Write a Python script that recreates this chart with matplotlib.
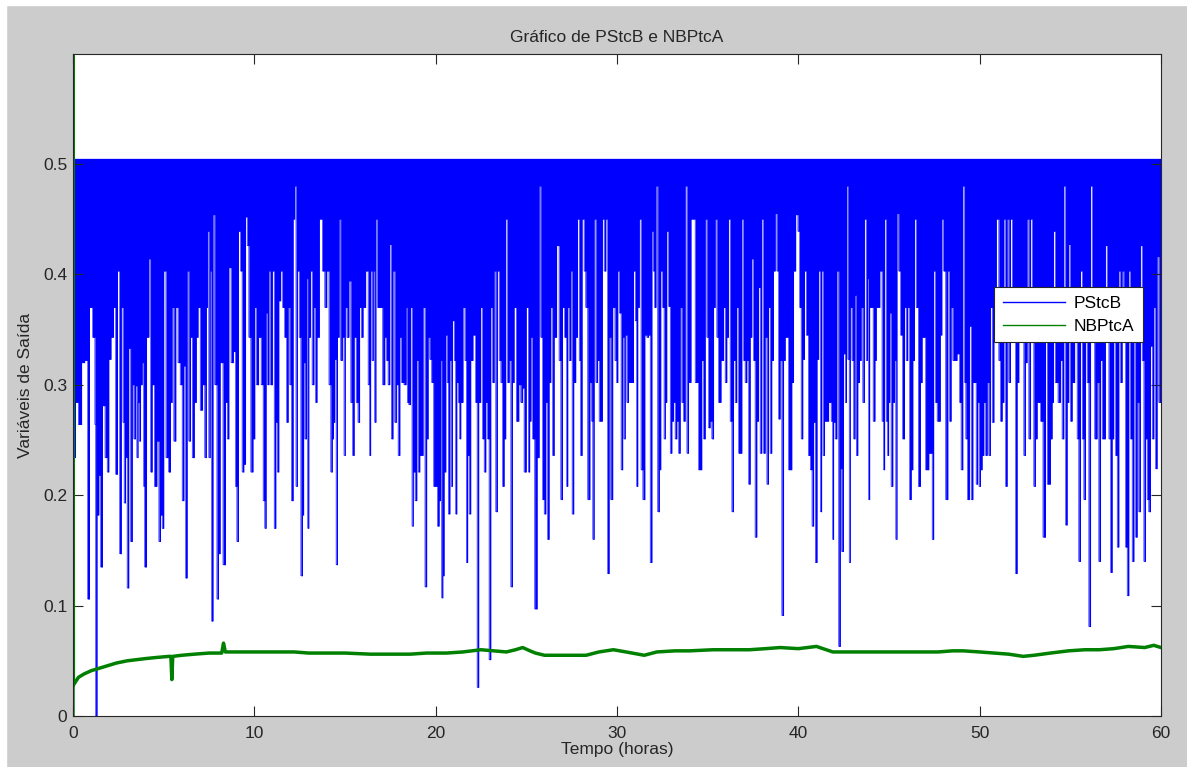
import matplotlib
matplotlib.use("Agg")
import matplotlib.pyplot as plt
import numpy as np
from matplotlib.patches import Rectangle

plt.rcParams['font.family'] = ['Liberation Sans', 'DejaVu Sans']
plt.rcParams['font.size'] = 12.5

# PStcB: ceiling level and the dips below it, (hours, value)
pstcb_top = 0.505
pstcb_dips = [
    (0.00, .233), (0.09, .234), (0.18, .284), (0.40, .264), (0.55, .320), (0.74, .322), (0.86, .106), (0.96, .370),
    (1.19, .343), (1.22, .264), (1.27, .000), (1.38, .182), (1.47, .218), (1.56, .135), (1.69, .281), (1.84, .234),
    (1.93, .221), (2.02, .323), (2.17, .343), (2.30, .370), (2.39, .219), (2.52, .403), (2.61, .147), (2.72, .370),
    (2.79, .266), (2.85, .193), (2.94, .234), (3.03, .116), (3.12, .333), (3.23, .158), (3.31, .300), (3.40, .251),
    (3.49, .299), (3.55, .234), (3.62, .284), (3.68, .249), (3.77, .300), (3.86, .320), (3.92, .208), (3.97, .135),
    (4.14, .343), (4.23, .414), (4.32, .221), (4.41, .300), (4.56, .208), (4.69, .249), (4.78, .158), (4.87, .182),
    (4.96, .170), (5.05, .403), (5.20, .234), (5.33, .221), (5.42, .284), (5.51, .370), (5.61, .249), (5.73, .370),
    (5.85, .320), (5.97, .300), (6.07, .195), (6.16, .317), (6.25, .125), (6.34, .403), (6.43, .249), (6.53, .343),
    (6.62, .234), (6.76, .284), (6.84, .343), (6.95, .370), (7.08, .277), (7.21, .300), (7.32, .234), (7.39, .370),
    (7.44, .439), (7.54, .234), (7.59, .403), (7.68, .086), (7.76, .454), (7.87, .300), (8.00, .106), (8.05, .147),
    (8.18, .320), (8.36, .137), (8.46, .284), (8.55, .251), (8.64, .406), (8.79, .320), (8.90, .330), (9.01, .208),
    (9.06, .158), (9.19, .439), (9.28, .403), (9.37, .221), (9.47, .228), (9.56, .452), (9.65, .426), (9.74, .343),
    (9.87, .221), (9.98, .251),
    (10.07, .370), (10.16, .300), (10.31, .343), (10.44, .300), (10.53, .195), (10.62, .170), (10.68, .365), (10.77, .300),
    (10.84, .403), (10.94, .300), (11.05, .403), (11.14, .170), (11.23, .266), (11.30, .221), (11.40, .376), (11.51, .403),
    (11.60, .370), (11.73, .343), (11.82, .266), (11.91, .370), (12.00, .300), (12.09, .195), (12.19, .450), (12.26, .480),
    (12.33, .208), (12.42, .403), (12.52, .343), (12.61, .127), (12.70, .182), (12.74, .320), (12.83, .251), (12.92, .396),
    (12.96, .170), (13.05, .343), (13.14, .403), (13.23, .300), (13.34, .370), (13.40, .284), (13.51, .343), (13.66, .450),
    (13.84, .403), (13.93, .370), (14.06, .403), (14.17, .300), (14.26, .221), (14.34, .251), (14.39, .266), (14.48, .323),
    (14.54, .137), (14.63, .343), (14.72, .450), (14.80, .322), (14.91, .343), (14.98, .236), (15.05, .370), (15.16, .343),
    (15.27, .394), (15.37, .284), (15.46, .236), (15.55, .343), (15.68, .284), (15.75, .266), (15.86, .370), (15.94, .343),
    (16.05, .370), (16.23, .403), (16.32, .300), (16.38, .236), (16.45, .403), (16.52, .322), (16.60, .403), (16.67, .266),
    (16.74, .450), (16.84, .370), (17.00, .370), (17.15, .300), (17.24, .343), (17.33, .322), (17.42, .300), (17.52, .427),
    (17.59, .251), (17.70, .403), (17.79, .266), (17.88, .300), (17.98, .236), (18.07, .343), (18.16, .302), (18.34, .300),
    (18.40, .370), (18.47, .284), (18.56, .282), (18.66, .370), (18.73, .172), (18.80, .221), (18.93, .195), (18.99, .322),
    (19.08, .221), (19.17, .236), (19.26, .236), (19.35, .370), (19.47, .117), (19.54, .251), (19.63, .343), (19.72, .323),
    (19.83, .302), (19.94, .208),
    (20.05, .208), (20.14, .172), (20.24, .195), (20.29, .322), (20.37, .107), (20.42, .127), (20.51, .221), (20.61, .345),
    (20.66, .302), (20.73, .183), (20.84, .322), (20.88, .208), (20.97, .358), (21.07, .322), (21.12, .183), (21.21, .302),
    (21.29, .284), (21.34, .251), (21.43, .284), (21.58, .370), (21.65, .322), (21.73, .139), (21.80, .236), (21.89, .183),
    (21.98, .322), (22.13, .345), (22.26, .284), (22.31, .026), (22.44, .284), (22.53, .370), (22.63, .251), (22.72, .221),
    (22.81, .284), (22.90, .251), (22.99, .051), (23.09, .370), (23.18, .302), (23.27, .403), (23.36, .185), (23.45, .403),
    (23.55, .322), (23.64, .302), (23.73, .208), (23.82, .251), (23.91, .450), (24.01, .302), (24.10, .322), (24.19, .117),
    (24.28, .302), (24.37, .370), (24.52, .267), (24.65, .300), (24.74, .284), (24.83, .297), (24.92, .221), (25.07, .370),
    (25.15, .221), (25.22, .267), (25.29, .343), (25.39, .251), (25.53, .097), (25.66, .234), (25.75, .480), (25.84, .343),
    (25.94, .196), (26.03, .183), (26.12, .284), (26.21, .160), (26.30, .302), (26.40, .370), (26.49, .236), (26.58, .343),
    (26.76, .426), (26.85, .322), (26.95, .196), (27.04, .370), (27.17, .343), (27.26, .208), (27.31, .370), (27.41, .322),
    (27.50, .403), (27.55, .183), (27.68, .302), (27.77, .343), (27.87, .450), (27.96, .322), (28.01, .236), (28.14, .450),
    (28.23, .403), (28.32, .370), (28.45, .196), (28.56, .302), (28.64, .267), (28.69, .160), (28.79, .450), (28.88, .302),
    (28.97, .322), (29.06, .267), (29.15, .267), (29.24, .450), (29.34, .403), (29.43, .450), (29.52, .129), (29.61, .343),
    (29.70, .196), (29.83, .370), (29.94, .322),
    (30.00, .302), (30.09, .403), (30.17, .365), (30.28, .223), (30.35, .343), (30.41, .251), (30.50, .345), (30.59, .284),
    (30.68, .302), (30.86, .302), (30.96, .403), (31.05, .358), (31.10, .208), (31.19, .370), (31.27, .450), (31.38, .223),
    (31.47, .196), (31.60, .345), (31.69, .343), (31.78, .345), (31.88, .139), (31.97, .439), (32.02, .403), (32.11, .370),
    (32.19, .480), (32.30, .185), (32.37, .223), (32.46, .403), (32.56, .370), (32.63, .251), (32.70, .284), (32.79, .439),
    (32.89, .371), (32.98, .238), (33.07, .267), (33.16, .284), (33.25, .251), (33.35, .267), (33.44, .238), (33.53, .370),
    (33.62, .284), (33.71, .267), (33.81, .480), (33.90, .238), (33.99, .302), (34.17, .450), (34.45, .302), (34.54, .223),
    (34.63, .223), (34.72, .322), (34.82, .251), (34.91, .450), (35.00, .343), (35.09, .261), (35.18, .267), (35.28, .251),
    (35.37, .370), (35.46, .450), (35.55, .343), (35.64, .284), (35.83, .322), (35.92, .370), (36.01, .302), (36.10, .343),
    (36.19, .450), (36.29, .267), (36.38, .185), (36.47, .322), (36.56, .284), (36.65, .370), (36.75, .238), (36.84, .238),
    (36.93, .450), (37.02, .322), (37.11, .302), (37.21, .322), (37.30, .210), (37.39, .343), (37.48, .414), (37.57, .322),
    (37.66, .162), (37.76, .267), (37.85, .388), (37.94, .238), (38.03, .450), (38.12, .238), (38.22, .343), (38.31, .210),
    (38.40, .370), (38.49, .238), (38.58, .322), (38.68, .403), (38.77, .455), (38.86, .403), (38.95, .269), (39.04, .322),
    (39.14, .091), (39.23, .322), (39.32, .343), (39.59, .223), (39.69, .302), (39.78, .403), (39.93, .454),
    (40.02, .439), (40.11, .370), (40.20, .251), (40.29, .323), (40.39, .403), (40.48, .345), (40.62, .236), (40.70, .223),
    (40.81, .172), (40.88, .266), (40.99, .139), (41.07, .323), (41.18, .403), (41.25, .185), (41.32, .403), (41.40, .236),
    (41.49, .267), (41.58, .267), (41.76, .284), (41.86, .267), (41.91, .160), (41.98, .266), (42.08, .251), (42.17, .403),
    (42.28, .063), (42.35, .224), (42.44, .149), (42.54, .328), (42.63, .284), (42.68, .480), (42.78, .323), (42.83, .139),
    (42.90, .370), (43.01, .322), (43.09, .251), (43.16, .381), (43.23, .236), (43.33, .302), (43.42, .322), (43.51, .370),
    (43.60, .284), (43.69, .450), (43.79, .322), (43.84, .396), (43.90, .196), (43.97, .370), (44.06, .370), (44.19, .267),
    (44.26, .322), (44.34, .370), (44.43, .370), (44.56, .403), (44.67, .267), (44.72, .223), (44.80, .450), (44.89, .267),
    (44.94, .236), (45.02, .284), (45.07, .365), (45.16, .208), (45.26, .284), (45.35, .322), (45.40, .160), (45.48, .455),
    (45.59, .403), (45.68, .345), (45.81, .251), (45.90, .370), (45.99, .322), (46.08, .370), (46.18, .196), (46.27, .223),
    (46.36, .322), (46.45, .450), (46.54, .370), (46.69, .208), (46.78, .302), (46.87, .343), (46.97, .343), (47.06, .223),
    (47.33, .238), (47.43, .160), (47.50, .403), (47.61, .284), (47.70, .267), (47.79, .267), (47.87, .345), (47.96, .450),
    (48.05, .403), (48.20, .196), (48.29, .403), (48.38, .267), (48.47, .370), (48.57, .322), (48.66, .322), (48.84, .328),
    (48.93, .284), (49.02, .223), (49.12, .480), (49.21, .302), (49.26, .251), (49.39, .196), (49.48, .353), (49.58, .196),
    (49.67, .302), (49.76, .302), (49.85, .210), (49.93, .284),
    (50.00, .208), (50.09, .223), (50.18, .236), (50.28, .284), (50.37, .236), (50.46, .302), (50.55, .236), (50.64, .370),
    (50.74, .266), (50.83, .343), (51.01, .450), (51.10, .322), (51.19, .267), (51.29, .284), (51.38, .450), (51.47, .208),
    (51.56, .450), (51.65, .302), (51.75, .450), (51.84, .370), (51.93, .343), (52.02, .129), (52.11, .302), (52.21, .343),
    (52.30, .370), (52.39, .343), (52.48, .236), (52.57, .320), (52.66, .450), (52.76, .251), (52.85, .450), (52.94, .343),
    (53.03, .208), (53.12, .251), (53.22, .284), (53.31, .284), (53.40, .267), (53.58, .162), (53.68, .343), (53.77, .210),
    (53.86, .210), (53.95, .251), (54.04, .284), (54.10, .439), (54.23, .302), (54.41, .284), (54.50, .322), (54.59, .251),
    (54.69, .480), (54.78, .173), (54.87, .284), (54.96, .427), (55.05, .267), (55.15, .302), (55.33, .370), (55.42, .251),
    (55.51, .140), (55.61, .403), (55.70, .251), (55.79, .196), (55.88, .343), (55.97, .302), (56.07, .081), (56.16, .480),
    (56.25, .343), (56.43, .251), (56.52, .302), (56.62, .140), (56.71, .322), (56.80, .251), (56.89, .251), (56.98, .426),
    (57.08, .343), (57.17, .251), (57.26, .130), (57.35, .251), (57.44, .370), (57.54, .236), (57.63, .153), (57.72, .403),
    (57.81, .302), (57.90, .403), (57.99, .343), (58.09, .153), (58.18, .109), (58.27, .403), (58.36, .251), (58.46, .140),
    (58.55, .343), (58.64, .162), (58.73, .284), (58.82, .185), (58.91, .426), (59.01, .322), (59.10, .140), (59.19, .251),
    (59.28, .196), (59.37, .185), (59.47, .335), (59.56, .251), (59.65, .370), (59.74, .224), (59.83, .416), (59.93, .284),
    (60.00, .284),
]

# NBPtcA trace (hours, value); the first sample jumps to the top of the axis
nbptca = [
    (0.00, 0.0), (0.00, 0.5995), (0.02, 0.028), (0.1, 0.030), (0.3, 0.035), (0.6, 0.038), (1.0, 0.041), (1.4, 0.043),
    (2.0, 0.046), (2.4, 0.048), (3.0, 0.050), (3.5, 0.051), (4.0, 0.052), (4.6, 0.053), (5.3, 0.054), (5.4, 0.054),
    (5.45, 0.033), (5.5, 0.054), (6.0, 0.055), (6.7, 0.056), (7.5, 0.057), (8.2, 0.057), (8.3, 0.066), (8.4, 0.058),
    (9.0, 0.058), (10.0, 0.058), (11.0, 0.058), (12.2, 0.058), (13.0, 0.057), (14.3, 0.057), (15.0, 0.057),
    (16.4, 0.056), (17.5, 0.056), (18.6, 0.056), (19.5, 0.057), (20.6, 0.057), (21.5, 0.058), (22.5, 0.060),
    (23.2, 0.059), (23.9, 0.058), (24.4, 0.060), (24.8, 0.062), (25.2, 0.059), (25.5, 0.057), (26.0, 0.055),
    (26.8, 0.055), (27.5, 0.055), (28.3, 0.055), (29.0, 0.058), (29.8, 0.060), (30.5, 0.058), (31.5, 0.055),
    (32.2, 0.058), (33.2, 0.059), (34.0, 0.059), (35.3, 0.060), (36.3, 0.060), (37.3, 0.060), (38.2, 0.061),
    (39.0, 0.062), (40.0, 0.061), (41.0, 0.063), (41.9, 0.058), (42.5, 0.058), (43.6, 0.058), (44.6, 0.058),
    (45.6, 0.058), (46.6, 0.058), (47.7, 0.058), (48.5, 0.059), (49.1, 0.059), (50.0, 0.058), (50.8, 0.057),
    (51.6, 0.056), (52.4, 0.054), (53.0, 0.055), (53.9, 0.057), (54.9, 0.059), (55.8, 0.060), (56.6, 0.060),
    (57.4, 0.061), (58.2, 0.063), (59.1, 0.062), (59.6, 0.064), (60.0, 0.062),
]

x_ticks = [0, 10, 20, 30, 40, 50, 60]
y_ticks = [0, 0.1, 0.2, 0.3, 0.4, 0.5]

t_b, v_b = np.array(pstcb_dips).T
t_g, v_g = np.array(nbptca).T

W, H = 1187, 767
fig = plt.figure(figsize=(W / 100, H / 100), dpi=100, facecolor='#cccccc')
# thin white margin on the top and left edges of the window
fig.patches.append(Rectangle((0, 1 - 5 / H), 1, 5 / H, transform=fig.transFigure, color='white', zorder=-1))
fig.patches.append(Rectangle((0, 0), 6 / W, 1, transform=fig.transFigure, color='white', zorder=-1))

ax = fig.add_axes([73 / W, 1 - 716 / H, 1088 / W, 662 / H])

ax.fill_between(t_b, v_b, pstcb_top, step='mid', color='#0000ff', lw=0)
ax.plot(t_b, v_b, drawstyle='steps-mid', color='#0000ff', lw=0.4, label='PStcB')
ax.plot(t_g, v_g, color='#008000', lw=2.5, label='NBPtcA')

ax.set_xlim(0, 60)
ax.set_ylim(0, 0.5995)
ax.set_xticks(x_ticks)
ax.set_yticks(y_ticks)
ax.set_yticklabels(['0', '0.1', '0.2', '0.3', '0.4', '0.5'])
ax.tick_params(direction='in', length=7, width=0.8, top=True, right=True,
               labelsize=12.5, colors='#262626', pad=4)
ax.tick_params(axis='x', pad=7)
for s in ax.spines.values():
    s.set_color('#262626')
    s.set_linewidth(0.8)

ax.set_title('Gráfico de PStcB e NBPtcA', fontsize=12.5, color='#262626', pad=9)
ax.set_xlabel('Tempo (horas)', fontsize=12.5, color='#262626', labelpad=1)
ax.set_ylabel('Variáveis de Saída', fontsize=12.5, color='#262626', labelpad=7)

leg = ax.legend(loc='upper left', bbox_to_anchor=((994 - 73) / 1088, (716 - 287) / 662),
                borderaxespad=0, fancybox=False, framealpha=1, edgecolor='#262626',
                fontsize=12.5, handlelength=3.6, handletextpad=0.5, borderpad=0.5,
                labelspacing=0.45)
leg.get_frame().set_linewidth(0.8)
for line in leg.get_lines():
    line.set_linewidth(1.0)

fig.savefig('out.png', dpi=100, facecolor=fig.get_facecolor())
